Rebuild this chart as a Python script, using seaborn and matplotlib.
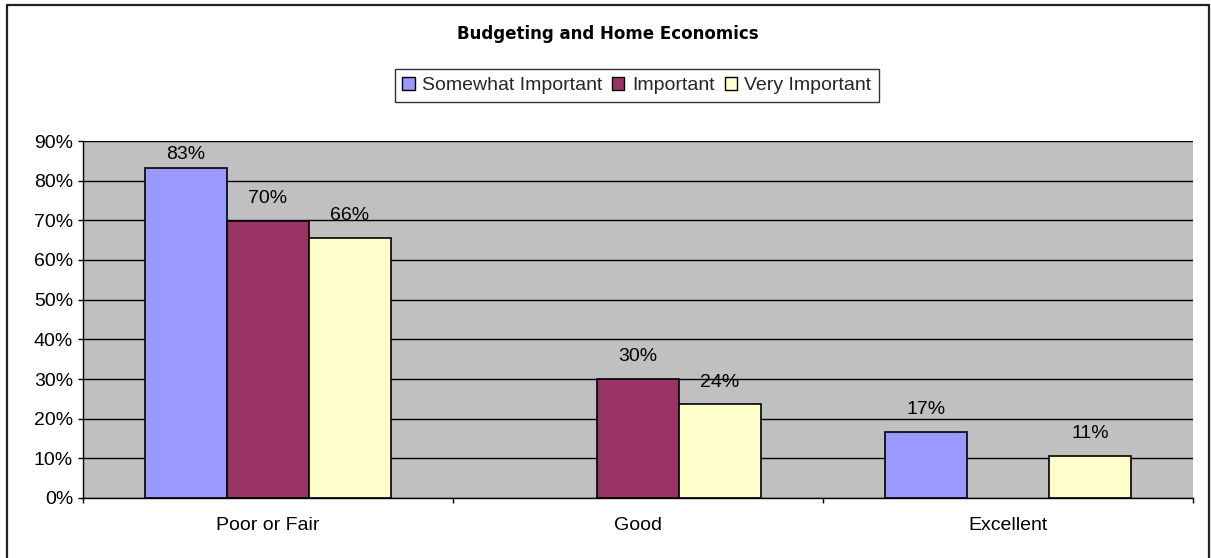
import matplotlib
matplotlib.use("Agg")
import matplotlib.pyplot as plt
import numpy as np
import pandas as pd
import seaborn as sns
from matplotlib.patches import Rectangle
from matplotlib.ticker import PercentFormatter

# Survey shares by self-rated skill level
categories = ["Poor or Fair", "Good", "Excellent"]
series = ["Somewhat Important", "Important", "Very Important"]
somewhat_important = [0.832, np.nan, 0.166]
important = [0.698, 0.300, np.nan]
very_important = [0.656, 0.236, 0.106]
colors = ["#9999FF", "#993366", "#FFFFCC"]
y_ticks = [0.0, 0.1, 0.2, 0.3, 0.4, 0.5, 0.6, 0.7, 0.8, 0.9]

df = pd.DataFrame({
    "category": categories * 3,
    "series": [s for s in series for _ in categories],
    "value": somewhat_important + important + very_important,
})

sns.set_theme(style="white")
plt.rcParams["font.family"] = ["Liberation Sans", "DejaVu Sans"]

W, H = 1211, 558
fig = plt.figure(figsize=(W / 100, H / 100), dpi=100)
ax = fig.add_axes([83 / W, 1 - 498 / H, (1193 - 83) / W, (498 - 141) / H])
ax.set_facecolor("#C0C0C0")

sns.barplot(
    data=df, x="category", y="value", hue="series",
    order=categories, hue_order=series, palette=colors,
    width=0.665, edgecolor="black", linewidth=1.2, saturation=1,
    ax=ax, legend=False, errorbar=None,
)

ax.set_ylim(0, 0.9)
ax.set_xlim(-0.5, 2.5)
ax.yaxis.set_major_locator(plt.FixedLocator(y_ticks))
ax.yaxis.set_major_formatter(PercentFormatter(1.0, decimals=0))
ax.set_axisbelow(True)
ax.grid(axis="y", color="black", linewidth=1)
ax.grid(axis="x", visible=False)
ax.set_xlabel("")
ax.set_ylabel("")

for side in ["top", "right"]:
    ax.spines[side].set_visible(False)
for side in ["left", "bottom"]:
    ax.spines[side].set_color("black")
    ax.spines[side].set_linewidth(1)

ax.tick_params(axis="y", left=True, length=3.6, width=1, color="black",
               labelsize=14, pad=3.6, labelcolor="black")
ax.tick_params(axis="x", bottom=False, labelsize=14, pad=7.5, labelcolor="black")
# category boundary ticks along the x axis
ax.set_xticks([-0.5, 0.5, 1.5, 2.5], minor=True)
ax.tick_params(axis="x", which="minor", bottom=True, length=3.6, width=1, color="black")

# value labels above each bar
for container in ax.containers:
    for bar in container:
        h = bar.get_height()
        if np.isnan(h) or h <= 0:
            continue
        y = min(h + 0.056, 0.866)
        ax.text(bar.get_x() + bar.get_width() / 2, y, f"{h * 100:.0f}%",
                ha="center", va="center", fontsize=14, color="black")

fig.text(608 / W, 1 - 34 / H, "Budgeting and Home Economics",
         ha="center", va="center", fontsize=12, fontweight="bold",
         color="black", family=["DejaVu Sans"])

handles = [Rectangle((0, 0), 1, 1, facecolor=c, edgecolor="black", linewidth=1)
           for c in colors]
leg = fig.legend(handles, series, loc="center", ncol=3,
                 bbox_to_anchor=(637 / W, 1 - 85.5 / H),
                 frameon=True, fontsize=14, handlelength=0.62, handleheight=0.62,
                 handletextpad=0.4, columnspacing=0.5, borderpad=0.4,
                 borderaxespad=0, fancybox=False, edgecolor="black")
leg.get_frame().set_linewidth(1)

# outer chart border (open at the bottom edge of the image)
fig.add_artist(Rectangle((7 / W, -4 / H), 1202 / W, 557 / H,
                         transform=fig.transFigure, fill=False,
                         edgecolor="#222222", linewidth=1.6))

fig.savefig("out.png", dpi=100, facecolor="white")
